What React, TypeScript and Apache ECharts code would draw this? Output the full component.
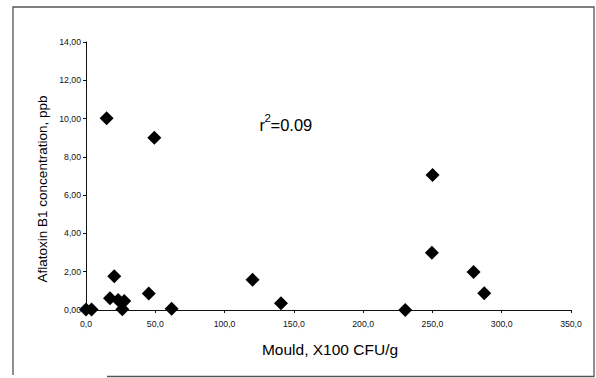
import React, { useEffect, useRef } from "react";
import * as echarts from "echarts";

const mouldX = [0, 4.0, 17.3, 20.4, 23.2, 27.6, 26.2, 45.3, 61.8, 120.2, 140.7, 230.4, 249.6, 279.7, 287.4, 250.1, 14.9, 49.3];
const aflatoxinY = [0.03, 0.03, 0.61, 1.76, 0.52, 0.47, 0.04, 0.86, 0.06, 1.58, 0.35, 0.0, 2.99, 1.98, 0.87, 7.05, 10.02, 9.0];
const xTicks = { min: 0, max: 350, interval: 50 };
const yTicks = { min: 0, max: 14, interval: 2 };
const xTitle = "Mould, X100 CFU/g";
const yTitle = "Aflatoxin B1 concentration, ppb";
const rLabel = { base: "r", sup: "2", rest: "=0.09" };

export default function App() {
  const ref = useRef<HTMLDivElement>(null);
  useEffect(() => {
    document.body.style.margin = "0";
    const chart = echarts.init(ref.current!, undefined, { renderer: "svg" });
    const font = "Arial, 'Liberation Sans', sans-serif";
    const data = mouldX.map((x, i) => [x, aflatoxinY[i]]);
    chart.setOption({
      animation: false,
      backgroundColor: "#ffffff",
      grid: { left: 86, right: 25, top: 42, bottom: 68 },
      xAxis: {
        type: "value",
        min: xTicks.min,
        max: xTicks.max,
        interval: xTicks.interval,
        axisLine: { lineStyle: { color: "#111", width: 1 } },
        axisTick: { show: true, inside: false, length: 3, lineStyle: { color: "#111" } },
        splitLine: { show: false },
        axisLabel: {
          color: "#111",
          fontSize: 8.7,
          fontFamily: font,
          margin: 9,
          formatter: (v: number) => v.toFixed(1).replace(".", ","),
        },
      },
      yAxis: {
        type: "value",
        min: yTicks.min,
        max: yTicks.max,
        interval: yTicks.interval,
        axisLine: { show: true, lineStyle: { color: "#111", width: 1 } },
        axisTick: { show: true, inside: false, length: 3, lineStyle: { color: "#111" } },
        splitLine: { show: false },
        axisLabel: {
          color: "#111",
          fontSize: 8.7,
          fontFamily: font,
          margin: 5,
          formatter: (v: number) => v.toFixed(2).replace(".", ","),
        },
      },
      series: [
        {
          type: "scatter",
          symbol: "diamond",
          symbolSize: 14,
          itemStyle: { color: "#000", opacity: 1 },
          data,
        },
      ],
      graphic: [
        {
          type: "polyline",
          shape: { points: [[107, 376.5], [594, 376.5], [594, 7], [13, 7], [13, 375]] },
          style: { stroke: "#555", lineWidth: 1.3, fill: "none" },
          silent: true,
        },
        {
          type: "text",
          x: 330,
          y: 349,
          style: { text: xTitle, fontSize: 15.5, fontFamily: font, fill: "#000", align: "center", verticalAlign: "middle" },
        },
        {
          type: "text",
          x: 42,
          y: 189,
          rotation: Math.PI / 2,
          style: { text: yTitle, fontSize: 13.5, fontFamily: font, fill: "#000", align: "center", verticalAlign: "middle" },
        },
        {
          type: "text",
          x: 259.5,
          y: 125,
          style: { text: rLabel.base, fontSize: 16.5, fontFamily: font, fill: "#000", align: "left", verticalAlign: "middle" },
        },
        {
          type: "text",
          x: 264.5,
          y: 118,
          style: { text: rLabel.sup, fontSize: 11.5, fontFamily: font, fill: "#000", align: "left", verticalAlign: "middle" },
        },
        {
          type: "text",
          x: 270.5,
          y: 125,
          style: { text: rLabel.rest, fontSize: 16.5, fontFamily: font, fill: "#000", align: "left", verticalAlign: "middle" },
        },
      ],
    });
    return () => chart.dispose();
  }, []);
  return <div ref={ref} style={{ width: 596, height: 378, position: "absolute", left: 0, top: 0 }} />;
}
